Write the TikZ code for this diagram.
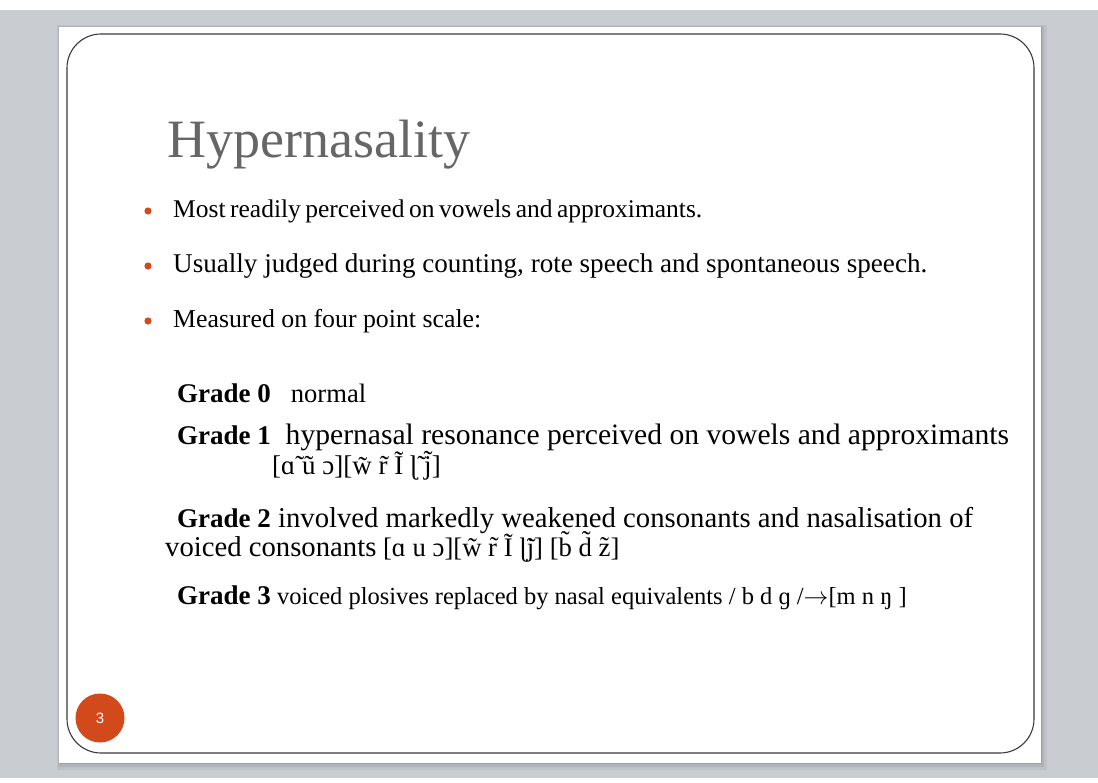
\documentclass[tikz,border=0pt]{standalone}
\usepackage{fontspec}
\setmainfont{Liberation Serif}
\setsansfont{Liberation Sans}
\usetikzlibrary{math}
\definecolor{deskgray}{HTML}{C9CCD1}
\definecolor{slideorange}{HTML}{D24A1B}
\definecolor{titlegray}{HTML}{666666}
\definecolor{framegray}{HTML}{3A3A3A}
\tikzset{
  bodytext/.style={anchor=base west, inner sep=0pt, font=\fontsize{#1}{30}\selectfont},
  bodytext/.default=24.5,
  bulletdot/.style={fill=slideorange},
}
\newcommand{\gradelabel}[1]{{\fontsize{27}{30}\selectfont\textbf{Grade #1}}}

\begin{document}
\begin{tikzpicture}[x=1pt,y=-1pt]
\tikzmath{
\rad=34;
}
\useasboundingbox (0,0) rectangle (1098,783);
\fill[white] (0,0) rectangle (1098,783);
\fill[deskgray] (0,10) rectangle (1098,778);
% slide and its shadow
\fill[black,opacity=0.05] (57,25) rectangle (1047,770);
\fill[black,opacity=0.07] (58,26) rectangle (1044,767);
\fill[black,opacity=0.10] (59,27) rectangle (1042,764);
\fill[white] (59,27) rectangle (1041,763);
\draw[framegray,line width=1.1,rounded corners=\rad] (67,34) rectangle (1034,753);

\node[anchor=base west, inner sep=0pt, text=titlegray, font=\fontsize{54}{60}\selectfont] (title) at (167,158) {Hypernasality};

% bullets
\fill[bulletdot] (148,211) circle (3.6);
\fill[bulletdot] (148,266) circle (3.6);
\fill[bulletdot] (148,321) circle (3.6);
\node[bodytext=25.5] (itemA) at (173,218) {\spaceskip=4.5pt Most readily perceived on vowels and approximants.};
\node[bodytext=27.1] (itemB) at (173,273) {Usually judged during counting, rote speech and spontaneous speech.};
\node[bodytext=25.8] (itemC) at (173,328) {Measured on four point scale:};

% grades
\node[bodytext=26.6] (gradeA) at (177,403) {\gradelabel{0}\hspace{0.75em}normal};
\node[bodytext=29.6] (gradeB) at (177,445) {\gradelabel{1}\hspace{0.5em}hypernasal resonance perceived on vowels and approximants};
\node[bodytext=27] (ipaB) at (272,475) {[ɑ̃ ũ ɔ][w̃ r̃ Ĩ ɭ̃ j̃]};
\node[bodytext=28.7] (gradeC) at (177,527) {\gradelabel{2} involved markedly weakened consonants and nasalisation of};
\node[bodytext=26.7] (ipaC) at (165,556) {{\fontsize{28.7}{30}\selectfont voiced consonants} [ɑ u ɔ][w̃ r̃ Ĩ ɭ̃j] [b̃ d̃ z̃]};
\node[bodytext=24.5] (gradeD) at (177,604) {\gradelabel{3} voiced plosives replaced by nasal equivalents / b d ɡ /$\rightarrow$[m n ŋ ]};

% slide number
\fill[slideorange] (100,718) circle (24.5);
\node[text=white, font=\sffamily\fontsize{15}{18}\selectfont] (pagenum) at (100,718) {3};
\end{tikzpicture}
\end{document}
